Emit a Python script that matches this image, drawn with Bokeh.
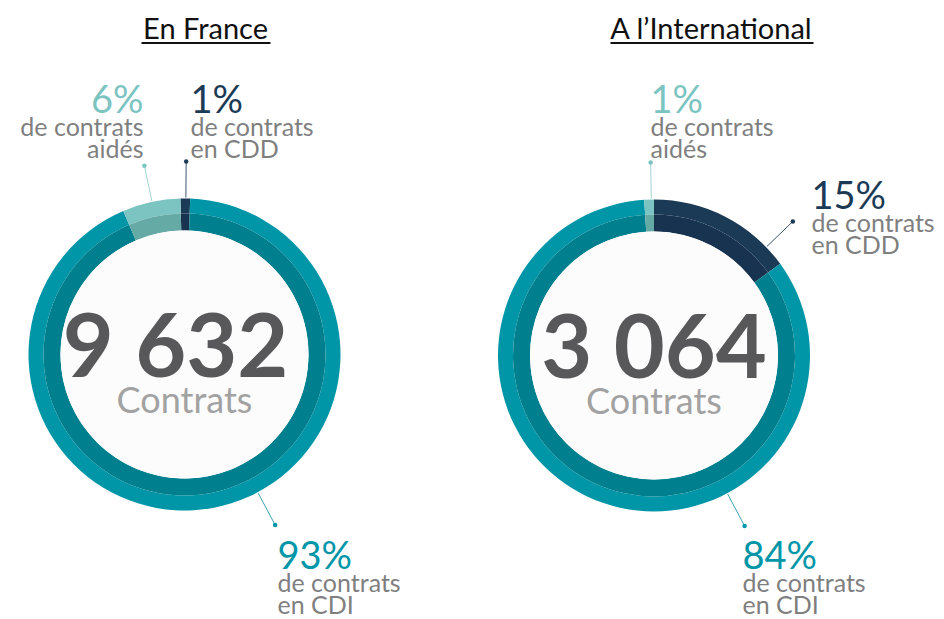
import math
from bokeh.plotting import figure
from bokeh.models import Range1d
from bokeh.core.properties import value
from bokeh.embed import file_html
from bokeh.resources import INLINE

# ---------------- data ----------------
titles = ["En France", "A l’International"]
totals = ["9 632", "3 064"]
unit_label = "Contrats"
categories = ["CDD", "CDI", "aidés"]
france_pct = [1, 93, 6]
intl_pct = [15, 84, 1]
desc_cdd = ["de contrats", "en CDD"]
desc_cdi = ["de contrats", "en CDI"]
desc_aides = ["de contrats", "aidés"]

# ---------------- styles / layout ----------------
W, H = 944, 619
FONT = "Lato"
outer_col = {"CDD": "#1b3a56", "CDI": "#0096a8", "aidés": "#7bc4c1"}
inner_col = {"CDD": "#173350", "CDI": "#00808e", "aidés": "#66aaa6"}
lead_col = {"CDD": "#3d5670", "CDI": "#3aa3b0", "aidés": "#9fd4d1"}
pct_col = {"CDD": "#1b3a56", "CDI": "#0096a8", "aidés": "#7bc4c1"}
desc_col = "#7f7f7f"

R_OUT, R_MID, R_IN = 156, 141, 124
R_LEAD0, R_LEAD1 = 157, 193
BASE_FIX = 0.37  # svg text baseline compensation (fraction of font size)

def Y(py):
    return H - py

p = figure(width=W, height=H, output_backend="svg", toolbar_location=None,
           x_range=Range1d(0, W), y_range=Range1d(0, H), min_border=0)
p.axis.visible = False
p.grid.visible = False
p.outline_line_color = None
p.background_fill_color = "white"

def txt(x, py, s, size, color, align="left", bold=False):
    p.text(x=[x], y=[Y(py - BASE_FIX * size)], text=[s], text_font=value(FONT),
           text_font_style="bold" if bold else "normal",
           text_font_size=f"{size}px", text_color=color,
           text_align=align, text_baseline="alphabetic")

donuts = [
    dict(title=titles[0], total=totals[0], pct=france_pct, c=(184, 354), rot=-1.5,
         title_x=205, ul=(141, 270), tot_dx=-9,
         lead={"CDD": 0.5, "CDI": 152, "aidés": -12},
         lab={"CDD": (190, 112, "left"), "CDI": (277, 568, "left"), "aidés": (143, 112, "right")}),
    dict(title=titles[1], total=totals[1], pct=intl_pct, c=(653.5, 355), rot=0.0,
         title_x=711, ul=(610, 813), tot_dx=0,
         lead={"CDD": 46, "CDI": 152, "aidés": -1},
         lab={"CDD": (811, 208, "left"), "CDI": (742, 568, "left"), "aidés": (650, 112, "left")}),
]
descs = {"CDD": desc_cdd, "CDI": desc_cdi, "aidés": desc_aides}

for d in donuts:
    cx, cy = d["c"]
    total = sum(d["pct"])
    starts, ends = [], []
    acc = 0.0
    for v in d["pct"]:
        a0 = d["rot"] + 360.0 * acc / total
        acc += v
        a1 = d["rot"] + 360.0 * acc / total
        starts.append(math.radians(90 - a0))
        ends.append(math.radians(90 - a1))
    n = len(categories)
    p.annular_wedge(x=[cx] * n, y=[Y(cy)] * n, inner_radius=R_MID, outer_radius=R_OUT,
                    start_angle=starts, end_angle=ends, direction="clock",
                    fill_color=[outer_col[c] for c in categories], line_color=None)
    p.annular_wedge(x=[cx] * n, y=[Y(cy)] * n, inner_radius=R_IN, outer_radius=R_MID,
                    start_angle=starts, end_angle=ends, direction="clock",
                    fill_color=[inner_col[c] for c in categories], line_color=None)
    p.circle(x=[cx], y=[Y(cy)], radius=R_IN, fill_color="#fcfcfc", line_color=None)

    # center texts
    txt(cx + d["tot_dx"], cy + 21, d["total"], 88, "#58585a", "center", bold=True)
    txt(cx, cy + 58, unit_label, 36, "#a2a2a2", "center")

    # title
    txt(d["title_x"], 38, d["title"], 29, "#111111", "center")
    p.segment(x0=[d["ul"][0]], y0=[Y(42.5)], x1=[d["ul"][1]], y1=[Y(42.5)],
              line_color="#111111", line_width=2)

    # leaders and labels
    for cat, v in zip(categories, d["pct"]):
        th = math.radians(d["lead"][cat])
        x0 = cx + R_LEAD0 * math.sin(th)
        y0 = cy - R_LEAD0 * math.cos(th)
        x1 = cx + R_LEAD1 * math.sin(th)
        y1 = cy - R_LEAD1 * math.cos(th)
        p.segment(x0=[x0], y0=[Y(y0)], x1=[x1], y1=[Y(y1)],
                  line_color=lead_col[cat], line_width=1)
        p.scatter(x=[x1], y=[Y(y1)], size=4.5, marker="circle",
                  fill_color=pct_col[cat], line_color=None)
        lx, ly, al = d["lab"][cat]
        txt(lx, ly, f"{v}%", 38, pct_col[cat], al)
        for i, line in enumerate(descs[cat]):
            txt(lx, ly + 23 + 22 * i, line, 25, desc_col, al)

open("out.html", "w").write(file_html(p, INLINE))
